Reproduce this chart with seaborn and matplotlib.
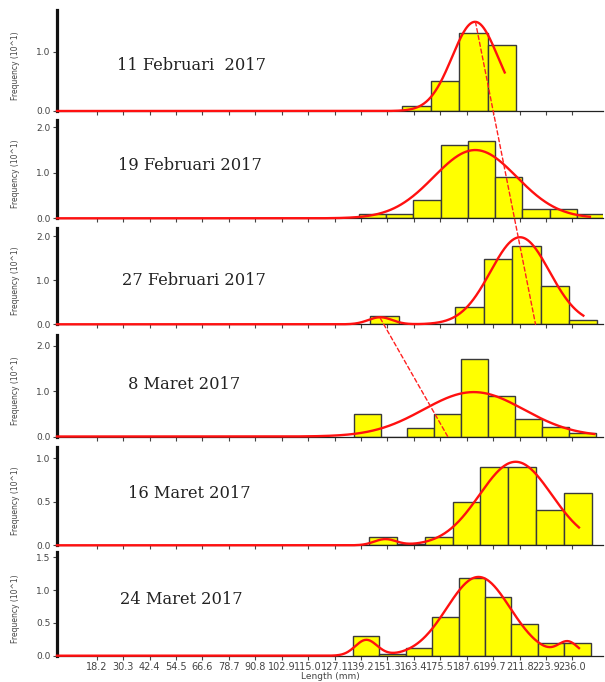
import numpy as np
import pandas as pd
import matplotlib
matplotlib.use("Agg")
import matplotlib.pyplot as plt
import seaborn as sns
from matplotlib.patches import ConnectionPatch

# ---------------- data ----------------
dates = ["11 Februari  2017", "19 Februari 2017", "27 Februari 2017",
         "8 Maret 2017", "16 Maret 2017", "24 Maret 2017"]

# length classes (lower limit of first class, class interval) and frequencies (10^1)
class_start = [158.0, 138.1, 143.4, 135.8, 142.7, 135.5]
class_width = [13.05, 12.5, 13.0, 12.33, 12.8, 12.1]
freq_1 = [0.08, 0.50, 1.32, 1.11]
freq_2 = [0.10, 0.10, 0.40, 1.62, 1.70, 0.91, 0.21, 0.20, 0.10]
freq_3 = [0.19, 0.0, 0.0, 0.39, 1.48, 1.78, 0.88, 0.10]
freq_4 = [0.49, 0.0, 0.19, 0.49, 1.71, 0.90, 0.38, 0.20, 0.08]
freq_5 = [0.10, 0.02, 0.10, 0.50, 0.90, 0.90, 0.41, 0.60]
freq_6 = [0.30, 0.02, 0.11, 0.59, 1.19, 0.90, 0.49, 0.19, 0.20]
freqs = [freq_1, freq_2, freq_3, freq_4, freq_5, freq_6]

# fitted normal components (mean length, s.d., peak height) per sample
comp_1 = [(191.4, 10.5, 1.51)]
comp_2 = [(191.5, 19.0, 1.50)]
comp_3 = [(148.0, 5.5, 0.16), (212.0, 13.5, 1.98)]
comp_4 = [(190.8, 23.0, 0.98)]
comp_5 = [(150.3, 5.0, 0.07), (210.0, 16.5, 0.96)]
comp_6 = [(141.6, 5.0, 0.24), (193.0, 14.5, 1.20), (234.0, 4.5, 0.20)]
components = [comp_1, comp_2, comp_3, comp_4, comp_5, comp_6]
curve_end = [205.0, 244.0, 241.0, 246.0, 239.0, 239.0]

# growth (cohort) lines: (panel, length, frequency) start -> end
growth_from = [(0, 191.6, 1.51), (2, 148.0, 0.14)]
growth_to = [(2, 219.1, 0.0), (3, 178.9, 0.0)]

x_tick_labels = ["18.2", "30.3", "42.4", "54.5", "66.6", "78.7", "90.8", "102.9",
                 "115.0", "127.1", "139.2", "151.3", "163.4", "175.5", "187.6",
                 "199.7", "211.8", "223.9", "236.0"]
x_ticks = [float(t) for t in x_tick_labels]

y_ticks = [[0.0, 1.0], [0.0, 1.0, 2.0], [0.0, 1.0, 2.0], [0.0, 1.0, 2.0],
           [0.0, 0.5, 1.0], [0.0, 0.5, 1.0, 1.5]]
y_top = [1.71, 2.16, 2.19, 2.24, 1.13, 1.58]

# ---------------- layout ----------------
W, H = 605, 682
fig = plt.figure(figsize=(W / 100, H / 100), dpi=100)
panel_top = [10, 120, 228, 335, 447, 552]
panel_base = [111, 218.3, 324.3, 436.5, 545.3, 655.7]
left_px, right_px = 57, 603
label_pos = [(117, 66), (118, 166), (122, 280), (128, 384), (128, 494), (120, 600)]

axes = []
for i in range(6):
    rect = [left_px / W, 1 - panel_base[i] / H,
            (right_px - left_px) / W, (panel_base[i] - panel_top[i]) / H]
    ax = fig.add_axes(rect)
    ax.patch.set_alpha(0)
    axes.append(ax)

for i, ax in enumerate(axes):
    f = freqs[i]
    edges = [class_start[i] + class_width[i] * k for k in range(len(f) + 1)]
    mids = [(edges[k] + edges[k + 1]) / 2 for k in range(len(f))]
    df = pd.DataFrame({"length": mids, "freq": f})
    sns.histplot(data=df, x="length", weights="freq", bins=edges, ax=ax,
                 color="#ffff00", edgecolor="#3a3a3a", linewidth=1.0, alpha=1.0)

    xs = np.linspace(0, curve_end[i], 600)
    ys = np.zeros_like(xs)
    for m, s, a in components[i]:
        ys += a * np.exp(-0.5 * ((xs - m) / s) ** 2)
    cdf = pd.DataFrame({"length": xs, "fit": ys})
    sns.lineplot(data=cdf, x="length", y="fit", ax=ax, color="#ff1010",
                 linewidth=1.7, estimator=None, clip_on=False, zorder=5)

    ax.set_xlim(0, 250)
    ax.set_ylim(0, y_top[i])
    ax.set_yticks(y_ticks[i])
    ax.set_yticklabels([f"{v:.1f}" for v in y_ticks[i]])
    ax.set_xticks(x_ticks)
    for side in ["top", "right"]:
        ax.spines[side].set_visible(False)
    ax.spines["left"].set_linewidth(2.3)
    ax.spines["left"].set_color("#111111")
    ax.spines["bottom"].set_linewidth(0.9)
    ax.spines["bottom"].set_color("#222222")
    ax.tick_params(axis="both", direction="out", length=3, width=0.8,
                   color="#444444", labelsize=6.5, labelcolor="#444444", pad=1.5)
    ax.set_ylabel("Frequency (10^1)", fontsize=5.5, color="#444444")
    ax.yaxis.set_label_coords(-0.068, 0.45)
    if i < 5:
        ax.set_xticklabels([])
        ax.set_xlabel("")
    else:
        ax.set_xticklabels(x_tick_labels, fontsize=7)
        ax.set_xlabel("Length (mm)", fontsize=6.5, color="#444444", labelpad=0)

    x_px, y_px = label_pos[i]
    fig.text(x_px / W, 1 - y_px / H, dates[i], fontsize=11.7,
             family="DejaVu Serif", color="#222222", va="center", ha="left")

for (pa, xa, ya), (pb, xb, yb) in zip(growth_from, growth_to):
    con = ConnectionPatch(xyA=(xa, ya), coordsA=axes[pa].transData,
                          xyB=(xb, yb), coordsB=axes[pb].transData,
                          color="#ff2020", linestyle=(0, (3, 2)), linewidth=1.0,
                          zorder=10)
    fig.add_artist(con)

fig.savefig("out.png", dpi=100)
